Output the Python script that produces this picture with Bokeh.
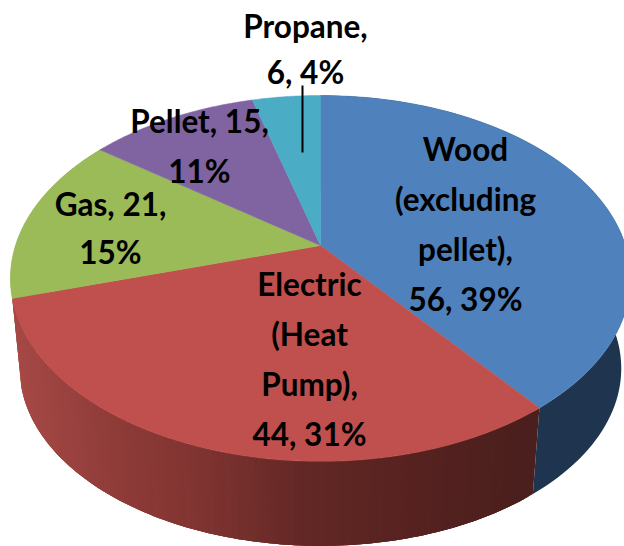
import math
from bokeh.plotting import figure
from bokeh.models import ColumnDataSource, Range1d
from bokeh.core.properties import value
from bokeh.embed import file_html
from bokeh.resources import INLINE

categories = ["Wood (excluding pellet)", "Electric (Heat Pump)", "Gas", "Pellet", "Propane"]
values = [56, 44, 21, 15, 6]
top_colors = ["#4F81BD", "#C0504D", "#9BBB59", "#8064A2", "#4BACC6"]

# label line breaks, one template per category
label_templates = [
    ["Wood", "(excluding", "pellet),", "{v}, {p}%"],
    ["Electric", "(Heat", "Pump),", "{v}, {p}%"],
    ["Gas, {v},", "{p}%"],
    ["Pellet, {v},", "{p}%"],
    ["Propane,", "{v}, {p}%"],
]
label_centres = [(465, 148), (309, 283), (110, 203), (199, 120), (305, 25)]
label_steps = [50, 50, 48, 50, 46]
leader = ([302, 302], [85, 152])

# perspective projection of the pie disc (page pixels)
CX, CY, R, A, K = 320, 245, 305, 177, 0.18
DEPTH_DY, DEPTH_SCALE = 91, 0.97

side_stops_x = [15, 120, 220, 320, 430, 530]
side_stops_c = [(0xA6, 0x49, 0x46), (0x90, 0x3C, 0x39), (0x7E, 0x33, 0x30),
                (0x62, 0x28, 0x25), (0x56, 0x22, 0x20), (0x4B, 0x1F, 0x1D)]
side_colors = ["#1F344E", None, "#9BBB59"]


def project(theta, bottom=False):
    u, v = math.sin(theta), math.cos(theta)
    den = 1 + K * v
    s = DEPTH_SCALE if bottom else 1.0
    cy = CY + DEPTH_DY if bottom else CY
    return CX + s * R * u / den, cy - s * A * v / den


def red_at(x):
    xs, cs = side_stops_x, side_stops_c
    if x <= xs[0]:
        c = cs[0]
    elif x >= xs[-1]:
        c = cs[-1]
    else:
        for i in range(len(xs) - 1):
            if xs[i] <= x <= xs[i + 1]:
                t = (x - xs[i]) / (xs[i + 1] - xs[i])
                c = tuple(cs[i][j] + t * (cs[i + 1][j] - cs[i][j]) for j in range(3))
                break
    return "#%02X%02X%02X" % tuple(int(round(a)) for a in c)


def wall(t0, t1, steps):
    ts = [t0 + (t1 - t0) * k / steps for k in range(steps + 1)]
    a = [project(t) for t in ts]
    b = [project(t, True) for t in reversed(ts)]
    return [q[0] for q in a + b], [q[1] for q in a + b]


total = sum(values)
edges = [0.0]
for val in values:
    edges.append(edges[-1] + val / total * 2 * math.pi)

p = figure(width=624, height=546, output_backend="svg", toolbar_location=None,
           x_range=Range1d(0, 624), y_range=Range1d(546, 0), min_border=0,
           outline_line_color=None, background_fill_color="white")
p.axis.visible = False
p.grid.visible = False

# side wall: whole-colour pieces, then overlapping gradient bands on the red one
wall_x, wall_y, wall_c = [], [], []
for i in (0, 2):
    a0, a1 = edges[i], edges[i + 1]
    wx, wy = wall(a0, a1, 90)
    wall_x.append(wx)
    wall_y.append(wy)
    wall_c.append(side_colors[i])
p.patches(wall_x, wall_y, fill_color=wall_c, line_color=None)

a0, a1 = edges[1], edges[2]
n = int(math.degrees(a1 - a0))
band_x, band_y, band_c = [], [], []
for k in range(n):
    t0 = a0 + (a1 - a0) * k / n
    t1 = a0 + (a1 - a0) * (k + 3) / n
    wx, wy = wall(t0, min(t1, a1), 3)
    band_x.append(wx)
    band_y.append(wy)
    band_c.append(red_at(project(t0)[0]))
# a band painted earlier is overlapped by the next, going from the right end to the left
p.patches(band_x[::-1], band_y[::-1], fill_color=band_c[::-1], line_color=None)

# top face
xs, ys = [], []
for a0, a1 in zip(edges[:-1], edges[1:]):
    n = max(4, int(math.degrees(a1 - a0) * 2))
    pts = [project(a0 + (a1 - a0) * k / n) for k in range(n + 1)]
    xs.append([CX] + [q[0] for q in pts])
    ys.append([CY] + [q[1] for q in pts])
p.patches(xs, ys, fill_color=top_colors, line_color=top_colors, line_width=0.5)

# labels
tx, ty, tt = [], [], []
for val, tpl, (cx, cy), step in zip(values, label_templates, label_centres, label_steps):
    pct = round(val / total * 100)
    for j, line in enumerate(tpl):
        tx.append(cx)
        ty.append(cy + j * step)
        tt.append(line.format(v=val, p=pct))
p.line(leader[0], leader[1], line_color="black", line_width=2)
p.text(x="x", y="y", text="t", source=ColumnDataSource(dict(x=tx, y=ty, t=tt)),
       text_font=value("Lato"), text_font_style="bold", text_font_size="31.5px",
       text_align="center", text_baseline="middle", text_color="black")

open("out.html", "w").write(file_html(p, INLINE))
